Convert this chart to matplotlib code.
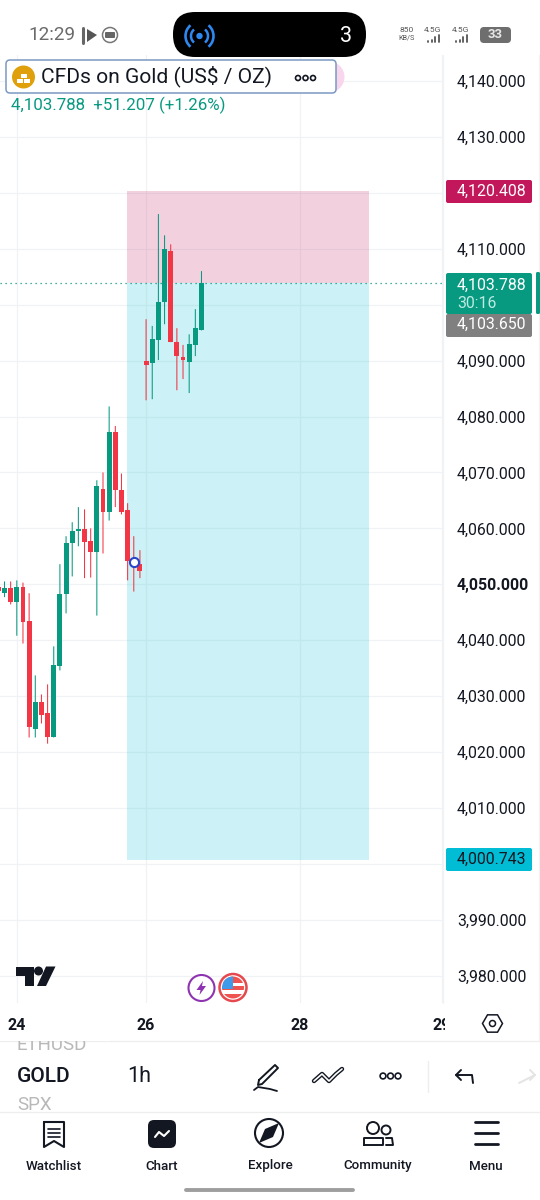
import matplotlib
matplotlib.use("Agg")
import matplotlib.pyplot as plt
from matplotlib.patches import Rectangle, FancyBboxPatch, Circle, Polygon, Arc, RegularPolygon

plt.rcParams['font.family'] = ['Roboto', 'DejaVu Sans']

# ---------- data ----------
candle_index = list(range(-1, 33))
opens = [4049.6, 4048.4, 4049.4, 4046.8, 4049.6, 4043.4, 4024.2, 4029.0, 4026.9, 4022.6, 4035.3, 4048.2,
         4057.3, 4059.5, 4059.8, 4057.7, 4055.7, 4067.0, 4062.9, 4077.2, 4066.8, 4063.2, 4054.1, 4053.6,
         4089.9, 4089.5, 4093.6, 4100.4, 4109.6, 4093.3, 4090.6, 4089.7, 4092.8, 4095.4]
closes = [4048.8, 4049.3, 4046.8, 4049.6, 4043.2, 4024.4, 4029.0, 4026.7, 4022.6, 4035.5, 4048.2, 4057.3,
          4059.5, 4059.8, 4057.5, 4055.7, 4067.5, 4063.0, 4077.2, 4066.8, 4062.9, 4054.1, 4053.7, 4052.3,
          4089.2, 4093.8, 4100.4, 4109.9, 4093.3, 4090.8, 4090.1, 4092.9, 4095.8, 4103.8]
highs = [4050.4, 4050.5, 4050.5, 4050.7, 4050.3, 4048.4, 4033.7, 4030.3, 4032.1, 4038.9, 4053.6, 4058.6,
         4061.1, 4063.8, 4063.4, 4060.0, 4068.6, 4070.0, 4081.8, 4078.3, 4069.8, 4064.5, 4058.6, 4056.1,
         4097.4, 4096.2, 4116.2, 4112.4, 4110.8, 4095.8, 4092.8, 4094.7, 4099.2, 4106.0]
lows = [4048.2, 4047.7, 4046.4, 4040.8, 4039.4, 4022.6, 4022.6, 4025.1, 4021.5, 4022.6, 4034.6, 4044.8,
        4051.4, 4056.8, 4051.1, 4051.2, 4044.4, 4055.5, 4061.4, 4063.8, 4062.5, 4050.7, 4048.7, 4051.1,
        4082.9, 4083.1, 4090.1, 4096.5, 4093.3, 4084.7, 4086.7, 4084.2, 4090.8, 4095.4]

price_ticks = [4140, 4130, 4120, 4110, 4100, 4090, 4080, 4070, 4060, 4050, 4040, 4030, 4020, 4010, 4000, 3990, 3980]
price_labels = ['4,140.000', '4,130.000', '', '4,110.000', '', '4,090.000', '4,080.000', '4,070.000', '4,060.000',
                '4,050.000', '4,040.000', '4,030.000', '4,020.000', '4,010.000', '', '3,990.000', '3,980.000']
date_ticks = [2, 23, 48, 71]
date_labels = ['24', '26', '28', '29']

target_price = 4120.408
last_price = 4103.788
bid_price = 4103.650
stop_price = 4000.743
position_start, position_end = 19.9, 59.2
entry_marker = (21, 4053.9)

GREEN = '#089981'
RED = '#F23645'
GRID = '#F0F3F6'

# ---------- layout ----------
W, H = 540, 1200
fig = plt.figure(figsize=(5.4, 12), dpi=100, facecolor='white')
ax = fig.add_axes([0, (H - 1003) / H, 443 / W, (1003 - 55) / H])
ax.set_xlim(-4.5 / 6.156, (443 - 4.5) / 6.156)
ax.set_ylim(3975.12, 4144.65)
for s in ax.spines.values():
    s.set_visible(False)
ax.set_axisbelow(True)
ax.grid(True, color=GRID, lw=0.9)
ax.set_yticks(price_ticks)
ax.set_yticklabels(price_labels, fontsize=11.4, color='#131722')
ax.yaxis.tick_right()
ax.tick_params(axis='y', length=0, pad=10)
for lab, t in zip(ax.get_yticklabels(), price_ticks):
    lab.set_verticalalignment('center_baseline')
    if t == 4050:
        lab.set_fontweight('bold')
ax.set_xticks(date_ticks)
ax.set_xticklabels(date_labels, fontsize=11.5, fontweight='bold', color='#131722')
ax.tick_params(axis='x', length=0, pad=10.5)

# position tool
ax.add_patch(Rectangle((position_start, last_price), position_end - position_start, target_price - last_price,
                       facecolor='#C2185B', alpha=0.2, lw=0, zorder=1.5))
ax.add_patch(Rectangle((position_start, stop_price), position_end - position_start, last_price - stop_price,
                       facecolor='#00BCD4', alpha=0.2, lw=0, zorder=1.5))
ax.axhline(last_price, color=GREEN, lw=0.9, ls=(0, (1, 3)), zorder=2)

# candles
colors = [GREEN if c >= o else RED for o, c in zip(opens, closes)]
wicks = ax.vlines(candle_index, lows, highs, colors=colors, lw=0.75, zorder=3)
wicks.set_snap(False)
ax.bar(candle_index, [abs(c - o) for o, c in zip(opens, closes)], bottom=[min(o, c) for o, c in zip(opens, closes)],
       width=0.8, color=colors, lw=0, zorder=4)
ax.plot(*[[v] for v in entry_marker], 'o', ms=6.6, mfc='white', mec='#2A46C8', mew=1.5, zorder=5)

# ---------- overlay in pixels ----------
ui = fig.add_axes([0, 0, 1, 1], facecolor='none')
ui.set_xlim(0, W)
ui.set_ylim(H, 0)
ui.axis('off')


def box(x0, y0, x1, y1, fc, r=2, ec='none', lw=0, z=3):
    p = FancyBboxPatch((x0 + r, y0 + r), x1 - x0 - 2 * r, y1 - y0 - 2 * r, boxstyle=f'round,pad={r},rounding_size={r}',
                       fc=fc, ec=ec, lw=lw, zorder=z)
    ui.add_patch(p)
    return p


def txt(x, y, s, size, color='#131722', ha='center', weight='normal', z=6, **kw):
    return ui.text(x, y, s, fontsize=size, color=color, ha=ha, va='center', fontweight=weight, zorder=z, **kw)


def line(xs, ys, color='#131722', lw=1.4, z=6, **kw):
    ui.plot(xs, ys, color=color, lw=lw, zorder=z, solid_capstyle='round', solid_joinstyle='round', **kw)


def circ(x, y, r, fc='none', ec='#131722', lw=1.3, z=6):
    c = Circle((x, y), r, fc=fc, ec=ec, lw=lw, zorder=z)
    ui.add_patch(c)
    return c


def dots(xs, y, r=2.9, color='#131722', lw=1.2):
    for x in xs:
        circ(x, y, r, ec=color, lw=lw)


# axis borders
ui.add_patch(Rectangle((444.5, 1003), 30, 37, fc='white', ec='none', zorder=2))
line([443, 443], [55, 1003], color=GRID, lw=0.9, z=1)
line([0, 540], [1040.7, 1040.7], color='#EEEEEE', lw=0.9, z=1)
line([539, 539], [55, 1040], color=GRID, lw=0.9, z=1)

# price tags
for y0, y1, c in [(180, 203, '#C2185B'), (273, 314, GREEN), (314, 337, '#808080'), (848, 871, '#00BCD4')]:
    box(446, y0, 532, y1, c, r=2)
box(536, 272, 540, 314, GREEN, r=1.5)
txt(526.5, 191, '4,120.408', 11.4, 'white', ha='right')
txt(526.5, 285, '4,103.788', 11.4, 'white', ha='right')
txt(457.5, 303.5, '30:16', 11.4, '#BDEBE2', ha='left')
txt(526.5, 324, '4,103.650', 11.4, 'white', ha='right')
txt(526.5, 859.5, '4,000.743', 11.4, '#131722', ha='right')

# status bar
txt(28, 35, '12:29', 13.6, '#6B6B6B', ha='left')
line([83, 83], [28, 43], '#666666', 2.2)
ui.add_patch(Polygon([(87, 29), (97, 35), (87, 42)], fc='#555555', zorder=6))
circ(110, 35, 7.5, ec='#777777', lw=1.1)
box(105, 32, 115, 38, '#666666', r=1, z=7)
box(173, 12, 366, 57, 'black', r=22)
circ(199.5, 36, 3.2, fc='#2E88F0', ec='none', lw=0)
for r, lw in [(8.5, 1.8), (14, 1.9)]:
    ui.add_patch(Arc((199.5, 36), 2 * r, 2 * r, theta1=-50, theta2=50, color='#2E88F0', lw=lw, zorder=6))
    ui.add_patch(Arc((199.5, 36), 2 * r, 2 * r, theta1=130, theta2=230, color='#2E88F0', lw=lw, zorder=6))
txt(346, 37, '3', 15.5, 'white')
txt(407, 30.5, '850', 6, '#555555')
txt(407, 38.5, 'KB/S', 5.2, '#555555')
for x0, vals in [(425, (3, 5, 8, 11)), (453, (3, 5, 8, 11))]:
    txt(x0 + 8, 30, '4.5G', 6, '#555555')
    for k, h in enumerate(vals):
        line([x0 + 3 + k * 3.6] * 2, [43 - h * 0.7, 42], '#555555', 1.3)
box(480, 27, 511, 43, '#6E6E6E', r=4)
txt(495, 35, '33', 9.5, '#E6E6E6', weight='bold', z=7)

# header
ui.add_patch(Circle((329, 77), 15.5, fc='#F8D7EC', ec='none', zorder=3))
box(6, 60, 336, 93, 'white', r=4, ec='#7C98C4', lw=1.1, z=4)
circ(23.5, 77, 11.5, fc='#E0A00C', ec='none', lw=0)
for x0, y0, x1 in [(17, 79, 23), (24, 79, 30), (20.5, 74, 26.5)]:
    ui.add_patch(Rectangle((x0, y0), x1 - x0, 4, fc='white', ec='none', zorder=7))
txt(41, 76.5, 'CFDs on Gold (US$ / OZ)', 15.1, '#131722', ha='left')
dots([298, 305.5, 313], 78, r=2.5)
txt(11, 105.5, '4,103.788  +51.207 (+1.26%)', 12.2, GREEN, ha='left')

# logo
ui.add_patch(Polygon([(15.5, 966.5), (34, 966.5), (34, 986), (25, 986), (25, 975.5), (15.5, 975.5)], fc='#131722', zorder=6))
circ(38.5, 971, 4.5, fc='#131722', ec='none', lw=0)
ui.add_patch(Polygon([(46, 966.5), (55.5, 966.5), (46, 986), (37, 986)], fc='#131722', zorder=6))

# event badges
circ(201.5, 988, 13, fc='white', ec='#8E34B0', lw=1.5)
ui.add_patch(Polygon([(203, 981), (196.5, 990), (200.5, 990), (199.5, 995), (206, 986), (202, 986)], fc='#8E34B0', zorder=7))
circ(233, 987.5, 13.5, fc='white', ec='#E5484D', lw=1.8)
flag = Circle((233, 987.5), 11, transform=ui.transData)
for rect in [Rectangle((221, 976), 24, 7, fc='#EF5350', ec='none', zorder=7),
             Rectangle((221, 986), 24, 4, fc='#EF5350', ec='none', zorder=7),
             Rectangle((221, 994), 24, 6, fc='#EF5350', ec='none', zorder=7),
             Rectangle((221, 976), 12, 13, fc='#3D9BE9', ec='none', zorder=8)]:
    ui.add_patch(rect)
    rect.set_clip_path(flag)

# settings hexagon
ui.add_patch(RegularPolygon((492.5, 1023.5), 6, radius=10, orientation=0.5236, fc='none', ec='#131722', lw=1.1, zorder=6))
circ(492.5, 1023.5, 3, lw=1.1)

# toolbar
txt(17, 1045, 'ETHUSD', 13.5, '#B8B8B8', ha='left', z=1.5)
txt(17, 1104.5, 'SPX', 13.5, '#B8B8B8', ha='left', z=1.5)
ui.add_patch(Rectangle((0, 1031), 110, 9.7, fc='white', ec='none', zorder=2))
ui.add_patch(Rectangle((0, 1112), 100, 15, fc='white', ec='none', zorder=2))
txt(17, 1076, 'GOLD', 15, '#131722', ha='left', weight='medium')
txt(127, 1076, '1h', 15.5, '#131722', ha='left')
line([259, 275, 278, 262, 258, 259], [1080, 1065, 1068, 1084, 1085, 1080], lw=1.4)
line([254, 258, 264, 270, 277], [1090, 1087, 1088, 1089, 1091], lw=1.3)
line([314, 322, 329, 336, 342], [1081, 1074, 1081, 1074, 1069], lw=3.2)
line([314, 322, 329, 336, 342], [1081, 1074, 1081, 1074, 1069], 'white', lw=1.2, z=7)
dots([383, 390.5, 398], 1076, r=2.9)
line([428, 428], [1061, 1092], '#EEEEEE', 1)
line([456, 472, 473], [1075, 1075, 1083], lw=1.4)
line([461, 456, 461], [1070, 1075, 1080], lw=1.4)
line([519, 535], [1083, 1075], '#E4E4E4', 1.4)
line([530, 535, 530], [1070, 1075, 1080], '#E4E4E4', 1.4)
line([0, 540], [1111.7, 1111.7], '#EEEEEE', 0.9, z=3)

# navigation bar
line([44, 64, 64, 54, 44, 44], [1122, 1122, 1147, 1141, 1147, 1122], lw=1.5)
for y in (1129, 1133, 1137):
    line([48, 60], [y, y], lw=1.2)
box(148, 1120, 176, 1148, '#131722', r=6)
line([155, 159, 164, 169], [1137, 1132, 1136, 1131], 'white', 1.5, z=7)
circ(269, 1133, 14, lw=1.5)
ui.add_patch(Polygon([(279, 1123), (265, 1129), (259, 1143), (273, 1137)], fc='#131722', zorder=7))
circ(373, 1128, 6, lw=1.4)
circ(386, 1130, 4.5, lw=1.4)
line([364, 364, 383, 383, 364], [1145, 1138, 1138, 1145, 1145], lw=1.4)
line([386, 392, 393, 386], [1138, 1138, 1145, 1145], lw=1.4)
for y in (1122, 1133, 1144):
    line([475, 498], [y, y], lw=2)
for x, lab in zip([54, 162, 270, 378, 486], ['Watchlist', 'Chart', 'Explore', 'Community', 'Menu']):
    txt(x, 1166, lab, 9.6, '#131722', weight='medium')
line([186, 353], [1190, 1190], '#9E9E9E', 2.8)

fig.savefig('out.png', dpi=100, facecolor='white')
